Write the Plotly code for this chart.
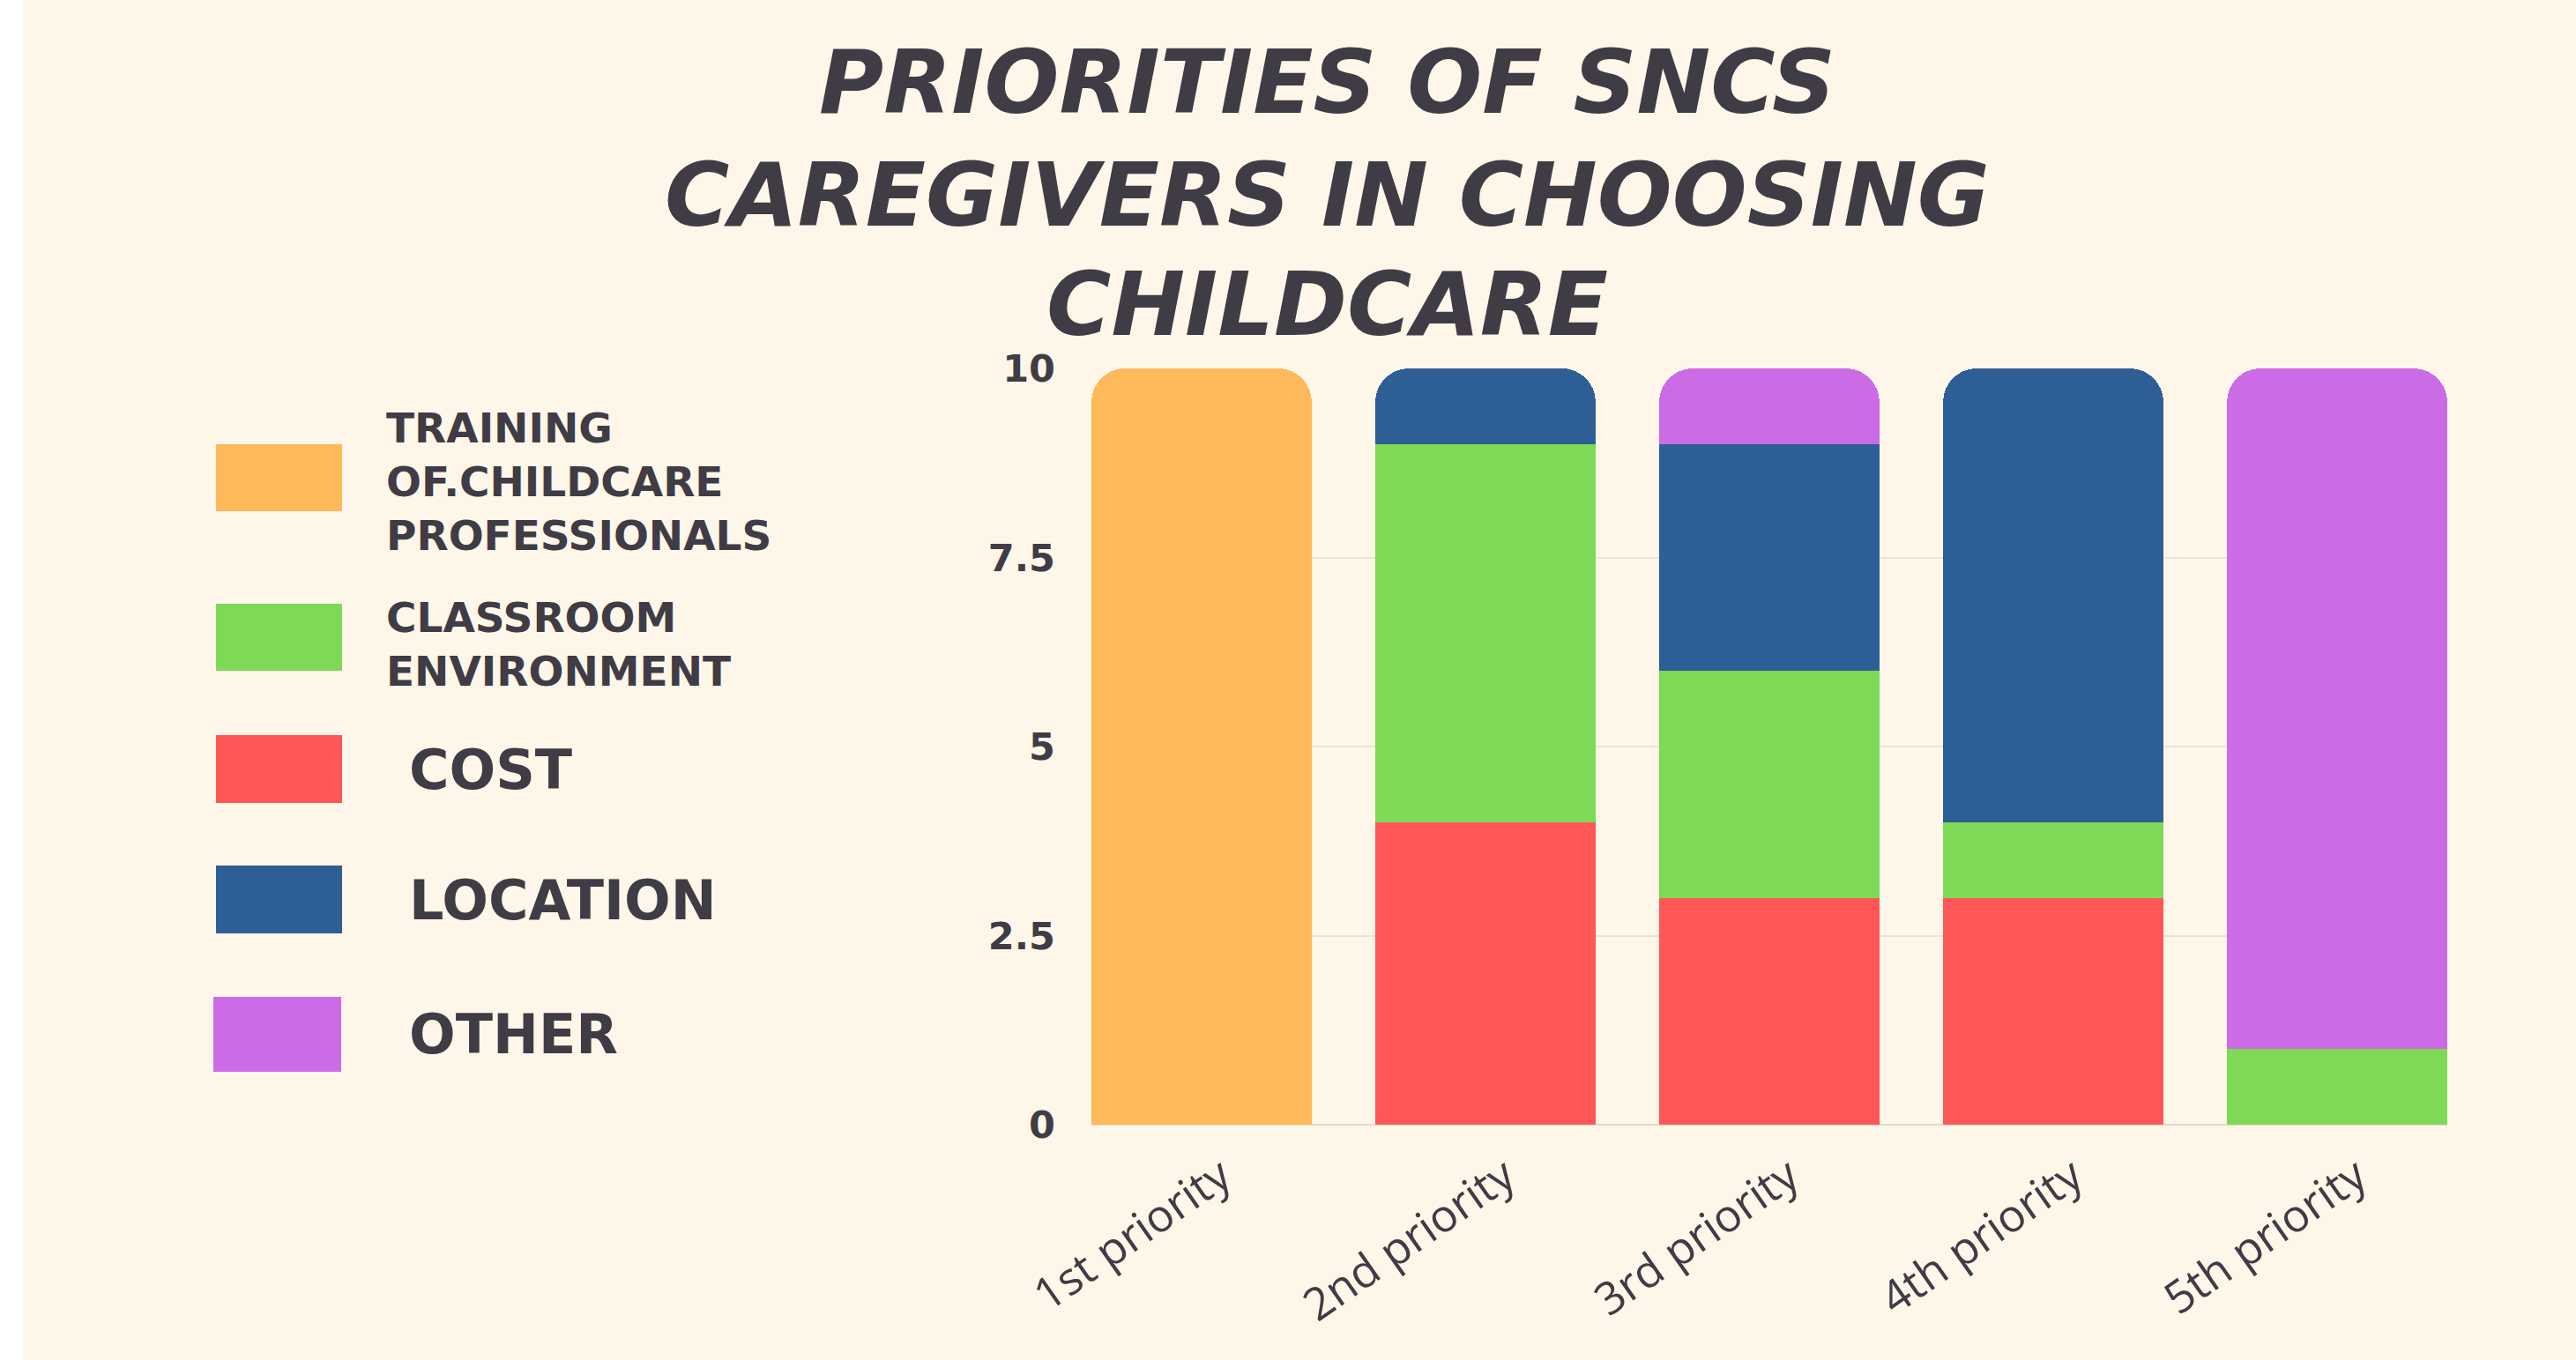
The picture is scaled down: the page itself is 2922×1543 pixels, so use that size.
import plotly.graph_objects as go

W, H = 2922, 1543

categories = ["1st priority", "2nd priority", "3rd priority", "4th priority", "5th priority"]
training = [10, None, None, None, None]
cost = [None, 4, 3, 3, None]
classroom = [None, 5, 3, 1, 1]
location = [None, 1, 3, 6, None]
other = [None, None, 1, None, 9]

series_names = ["TRAINING<br>OF.CHILDCARE<br>PROFESSIONALS", "CLASSROOM<br>ENVIRONMENT", "COST", "LOCATION", "OTHER"]
colors = {"training": "#FDB95A", "classroom": "#7ED957", "cost": "#FF5757",
          "location": "#2E5E96", "other": "#CB6CE6"}

y_ticks = [0, 2.5, 5, 7.5, 10]
y_ticktext = ["0", "2.5", "5", "7.5", "10"]

title_lines = ["PRIORITIES OF SNCS", "CAREGIVERS IN CHOOSING", "CHILDCARE"]

TEXT = "#403c45"
BG = "#FEF6E8"
LABEL_SHIFT = 0.07  # small rightward nudge of the rotated category labels


def px(x):
    return x / W


def py(y):
    return 1 - y / H


fig = go.Figure()
for name, vals, key in [("COST", cost, "cost"), ("CLASSROOM ENVIRONMENT", classroom, "classroom"),
                        ("LOCATION", location, "location"), ("OTHER", other, "other"),
                        ("TRAINING", training, "training")]:
    fig.add_trace(go.Bar(x=categories, y=vals, name=name, marker=dict(color=colors[key], line=dict(width=0)),
                         showlegend=False))

fig.update_layout(
    width=W, height=H, autosize=False,
    margin=dict(l=0, r=0, t=0, b=0, pad=0, autoexpand=False),
    paper_bgcolor=BG, plot_bgcolor=BG,
    barmode="stack", bargap=0.224, barcornerradius=38,
    xaxis=dict(domain=[px(1238), px(2776)], range=[-0.388, 4.388], showgrid=False, zeroline=False,
               showline=False, ticks="", tickangle=-35, ticklabelstandoff=18, automargin=False,
               tickvals=[i + LABEL_SHIFT for i in range(len(categories))], ticktext=categories,
               tickfont=dict(family="Open Sans", size=51, color=TEXT)),
    yaxis=dict(domain=[py(1276), py(418)], range=[0, 10], tickvals=y_ticks, ticktext=y_ticktext,
               showgrid=True, gridcolor="#ECE4D4", gridwidth=2, zeroline=True, zerolinecolor="#E2DACB",
               zerolinewidth=2, showline=False, ticks="", ticklabelstandoff=40, automargin=False,
               tickfont=dict(family="DejaVu Sans", size=43, color=TEXT, weight="bold")),
)

# left white strip
fig.add_shape(type="rect", xref="paper", yref="paper", x0=0, x1=px(26), y0=0, y1=1,
              fillcolor="white", line=dict(width=0), layer="below")

# title
for line, yc in zip(title_lines, [93, 222, 346]):
    fig.add_annotation(text=line, xref="paper", yref="paper", x=px(1505), y=py(yc),
                       xanchor="center", yanchor="middle", showarrow=False,
                       font=dict(family="DejaVu Sans", size=100, color=TEXT, weight="bold", style="italic"))

# custom legend
legend_keys = ["training", "classroom", "cost", "location", "other"]
swatches = [(245, 388, 504, 580), (245, 388, 685, 761), (245, 388, 834, 911),
            (245, 388, 982, 1059), (242, 387, 1131, 1216)]
text_pos = [(436, 547, 47), (436, 731, 47), (462, 873, 62), (462, 1021, 62), (462, 1173, 62)]
for key, name, (x0, x1, y0, y1), (tx, ty, fs) in zip(legend_keys, series_names, swatches, text_pos):
    fig.add_shape(type="rect", xref="paper", yref="paper", x0=px(x0), x1=px(x1), y0=py(y1), y1=py(y0),
                  fillcolor=colors[key], line=dict(width=0))
    fig.add_annotation(text=name, xref="paper", yref="paper", x=px(tx), y=py(ty),
                       xanchor="left", yanchor="middle", align="left", showarrow=False,
                       font=dict(family="DejaVu Sans", size=fs, color=TEXT, weight="bold"))

fig.write_html("out.html")
